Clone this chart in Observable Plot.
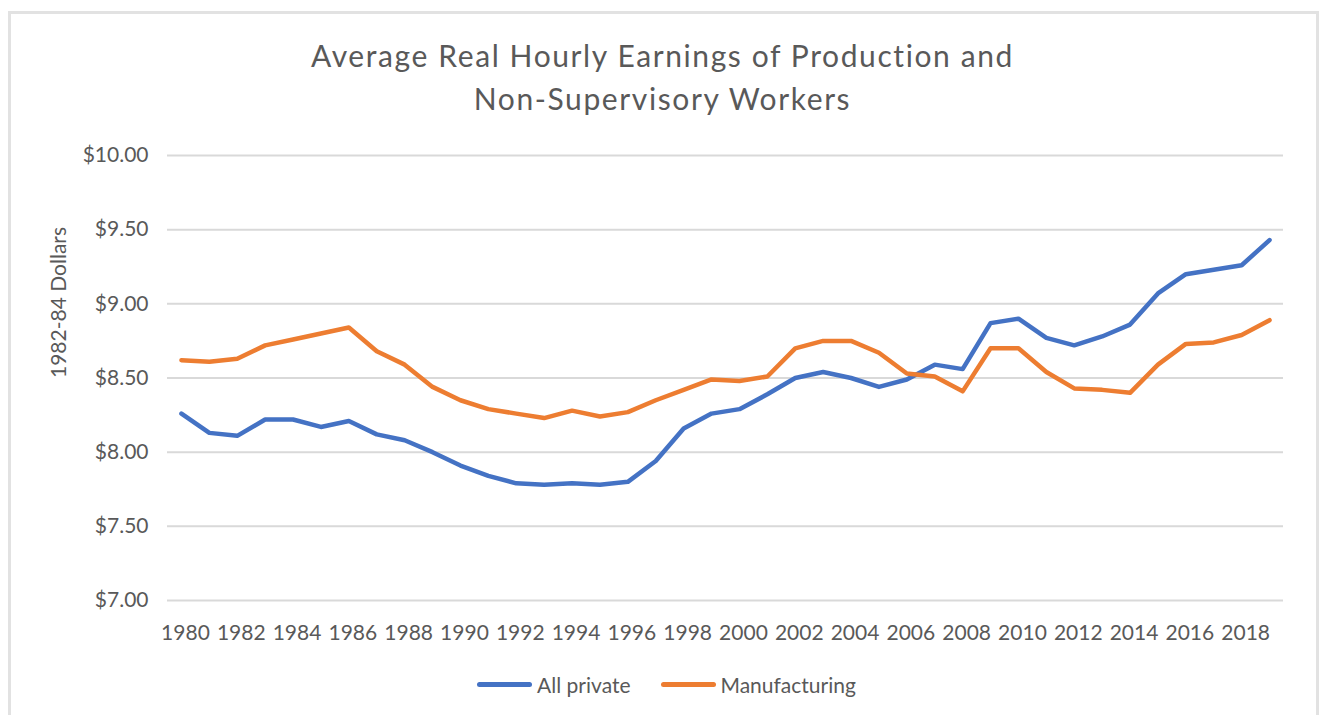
<!DOCTYPE html>
<html>
<head>
<meta charset="utf-8">
<script src="https://cdn.jsdelivr.net/npm/d3@7"></script>
<script src="https://cdn.jsdelivr.net/npm/@observablehq/plot@0.6"></script>
<style>
  html, body { margin: 0; padding: 0; background: #fff; }
  body { width: 1325px; height: 715px; position: relative; overflow: hidden; font-family: Lato, sans-serif; color: #595959; }
  #frame { position: absolute; left: 8px; top: 11px; width: 1311px; height: 760px; border: 3px solid #e2e2e2; box-sizing: border-box; pointer-events: none; }
  #title { position: relative; padding-top: 34px; height: 85px; text-align: center; font-size: 30px; line-height: 43px; letter-spacing: 1.6px; color: #595959; }
  #chart { position: relative; height: 541px; }
  #chart svg { display: block; }
  #legend { position: relative; height: 48px; display: flex; justify-content: center; align-items: center; font-size: 21px; color: #595959; padding-left: 8px; }
  .item { display: flex; align-items: center; margin: 0 15px; }
  .sw { width: 55px; height: 5px; border-radius: 3px; margin-right: 5px; }
</style>
</head>
<body>
<div id="frame"></div>
<div id="title">Average Real Hourly Earnings of Production and<br>Non-Supervisory Workers</div>
<div id="chart"></div>
<div id="legend"></div>
<script>
const years = [1980,1981,1982,1983,1984,1985,1986,1987,1988,1989,
               1990,1991,1992,1993,1994,1995,1996,1997,1998,1999,
               2000,2001,2002,2003,2004,2005,2006,2007,2008,2009,
               2010,2011,2012,2013,2014,2015,2016,2017,2018,2019];
const allPrivate = [8.26,8.13,8.11,8.22,8.22,8.17,8.21,8.12,8.08,8.00,
                    7.91,7.84,7.79,7.78,7.79,7.78,7.80,7.94,8.16,8.26,
                    8.29,8.39,8.50,8.54,8.50,8.44,8.49,8.59,8.56,8.87,
                    8.90,8.77,8.72,8.78,8.86,9.07,9.20,9.23,9.26,9.43];
const manufacturing = [8.62,8.61,8.63,8.72,8.76,8.80,8.84,8.68,8.59,8.44,
                       8.35,8.29,8.26,8.23,8.28,8.24,8.27,8.35,8.42,8.49,
                       8.48,8.51,8.70,8.75,8.75,8.67,8.53,8.51,8.41,8.70,
                       8.70,8.54,8.43,8.42,8.40,8.59,8.73,8.74,8.79,8.89];
const seriesNames = ["All private", "Manufacturing"];
const seriesColors = ["#4472C4", "#ED7D31"];
const xTicks = [1980,1982,1984,1986,1988,1990,1992,1994,1996,1998,
                2000,2002,2004,2006,2008,2010,2012,2014,2016,2018];
const yTicks = [7.0, 7.5, 8.0, 8.5, 9.0, 9.5, 10.0];
const yLabel = "1982-84 Dollars";

const data = [];
years.forEach((yr, i) => {
  data.push({year: yr, value: allPrivate[i], series: seriesNames[0]});
  data.push({year: yr, value: manufacturing[i], series: seriesNames[1]});
});

const chart = Plot.plot({
  width: 1325,
  height: 541,
  marginTop: 36,
  marginBottom: 60,
  marginLeft: 167,
  marginRight: 42,
  style: {fontFamily: "Lato, sans-serif", fontSize: "21px", color: "#595959", background: "transparent", overflow: "visible"},
  x: {type: "point", domain: years, padding: 0.5, label: null},
  y: {domain: [7, 10], label: null},
  color: {domain: seriesNames, range: seriesColors},
  marks: [
    Plot.ruleY(yTicks, {stroke: "#d9d9d9", strokeWidth: 2}),
    Plot.axisX({ticks: xTicks, tickSize: 0, tickPadding: 25, fontSize: 21, label: null, dx: 4, tickFormat: d => String(d)}),
    Plot.axisY({ticks: yTicks, tickSize: 0, tickPadding: 19, fontSize: 21, tickFormat: d => "$" + d.toFixed(2), label: null}),
    Plot.text([yLabel], {text: d => d, frameAnchor: "left", dx: -108, rotate: -90, fontSize: 21, fill: "#595959"}),
    Plot.line(data, {x: "year", y: "value", z: "series", stroke: "series", strokeWidth: 4.5, strokeLinejoin: "round", strokeLinecap: "round"})
  ]
});
document.getElementById("chart").appendChild(chart);

const legend = document.getElementById("legend");
seriesNames.forEach((name, i) => {
  const item = document.createElement("div");
  item.className = "item";
  const sw = document.createElement("div");
  sw.className = "sw";
  sw.style.background = seriesColors[i];
  const label = document.createElement("span");
  label.textContent = name;
  item.appendChild(sw);
  item.appendChild(label);
  legend.appendChild(item);
});
</script>
</body>
</html>
